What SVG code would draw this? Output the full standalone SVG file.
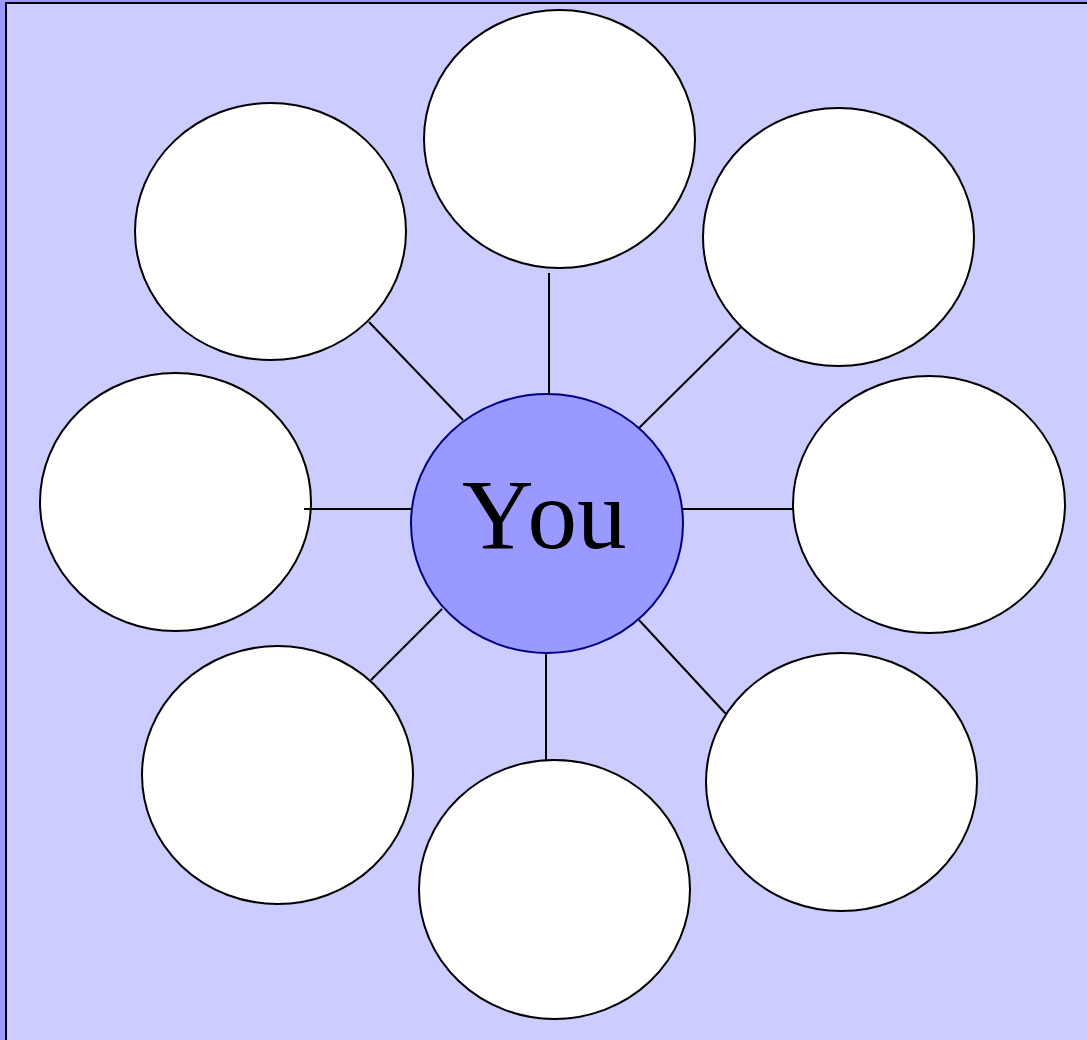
<svg xmlns="http://www.w3.org/2000/svg" width="1087" height="1040" viewBox="0 0 1087 1040">
<style>
.n{fill:#ffffff;stroke:#000000;stroke-width:2}
.c line{stroke:#000000;stroke-width:2}
.you{fill:#9999ff;stroke:#000080;stroke-width:2}
.t{font-family:"Liberation Serif","Times New Roman",serif;font-size:99px;fill:#000000}
</style>
<rect x="0" y="0" width="1087" height="1040" fill="#9999ff"/>
<rect x="6" y="3" width="1090" height="1050" fill="#ccccff" stroke="#000000" stroke-width="2"/>
<g id="node-top"><ellipse class="n" cx="559.5" cy="139" rx="135.5" ry="129"/></g>
<g id="node-topleft"><ellipse class="n" cx="270.5" cy="231.5" rx="135.5" ry="128.5"/></g>
<g id="node-topright"><ellipse class="n" cx="838.5" cy="237" rx="135.5" ry="129"/></g>
<g id="node-left"><ellipse class="n" cx="175.5" cy="502" rx="135.5" ry="129"/></g>
<g id="node-right"><ellipse class="n" cx="929" cy="504.5" rx="136" ry="128.5"/></g>
<g id="node-bottomleft"><ellipse class="n" cx="277.5" cy="775" rx="135.5" ry="129"/></g>
<g id="node-bottom"><ellipse class="n" cx="554.5" cy="889.5" rx="135.5" ry="129.5"/></g>
<g id="node-bottomright"><ellipse class="n" cx="841.5" cy="782" rx="135.5" ry="129"/></g>
<g id="node-you"><ellipse class="you" cx="547" cy="523.5" rx="136" ry="129.5"/>
<text class="t" x="462" y="548">Y<tspan dx="4">ou</tspan></text></g>
<g id="connectors" class="c">
<line x1="549" y1="273" x2="549" y2="395"/>
<line x1="369" y1="322" x2="463" y2="420"/>
<line x1="741" y1="327" x2="639" y2="428"/>
<line x1="304" y1="509" x2="411" y2="509"/>
<line x1="682" y1="509" x2="793" y2="509"/>
<line x1="371" y1="680" x2="442" y2="609"/>
<line x1="546" y1="653" x2="546" y2="760"/>
<line x1="639" y1="620" x2="726" y2="714"/>
</g>
</svg>
